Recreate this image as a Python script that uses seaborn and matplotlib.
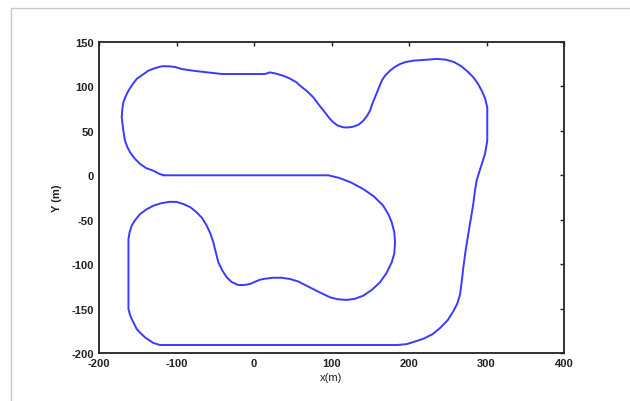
import matplotlib
matplotlib.use("Agg")
import matplotlib.pyplot as plt
import seaborn as sns
import pandas as pd
from matplotlib.patches import Rectangle

# Track outline (x, y in metres)
track_x = [-117, 96, 110, 125, 141, 155, 166.8, 174, 177.7, 181, 182, 181, 177.7, 171, 162.6,
           152, 141, 130, 119.6, 108, 98, 83, 68, 57, 46.4, 35, 24.9, 15, 7.7, -5.2, -13,
           -20.3, -29, -35.2, -41, -46, -49.5, -52.5, -56.5, -61, -67, -74, -82, -91.2, -100,
           -108.4, -120, -130, -139, -147, -153, -157.8, -160.5, -162, -162, -160, -157.8,
           -151.4, -146, -140.6, -130, -121.3, 162.6, 185, 197, 208, 218.5, 230, 240, 250,
           257.2, 262, 265.8, 268, 270, 273, 276.5, 280, 283, 285, 287.3, 293, 298, 301, 301,
           298, 293.8, 289, 283, 276, 267, 258, 248, 236, 222, 205.5, 196, 188.4, 181, 175.5,
           169, 164.8, 160, 156.1, 152, 149.7, 146, 141, 135, 128.1, 121, 115.2, 108, 102.3,
           97, 91.6, 84, 76.5, 68, 59.4, 55, 46, 37.8, 28, 20.6, 14.2, -41.7, -52, -61, -77,
           -93.3, -102, -110, -119, -128, -136.4, -144, -151.4, -157, -162, -166, -168.6, -170,
           -170.7, -170, -169.4, -168, -166.5, -163.5, -160, -154, -147, -139, -130, -123, -117]
track_y = [0, 0, -3, -8, -15.5, -24, -34.3, -45, -53, -64, -75.4, -88, -98, -110, -120.4,
           -129, -135.5, -139, -140.3, -139.5, -137.3, -131, -124.3, -119.5, -116.7, -115.3,
           -115.3, -116.3, -117.5, -122.3, -123.5, -123.5, -120, -114.8, -107, -98, -86, -75.4,
           -65, -56.7, -48, -41.7, -36, -32.3, -30, -29.8, -31.5, -34.3, -38.5, -43.6, -50,
           -56.7, -64, -71.7, -150.5, -157, -161.7, -173, -178, -182.4, -188.7, -191, -191,
           -191, -190, -187, -184, -179, -172, -163, -153, -145, -134.5, -120, -104.5, -85,
           -66, -48, -32, -18, -5.6, 10, 24, 39, 76.5, 87, 95.2, 103, 110.3, 116.5, 123,
           127.5, 130, 131, 130, 129, 127.5, 125.2, 121.5, 117.7, 112, 106.4, 96, 87.8, 79,
           72.7, 67, 61.4, 57, 54.7, 53.8, 54, 56, 59.6, 64.5, 70.8, 79, 87.7, 95, 100.8,
           104.5, 109, 112, 114.5, 115.8, 114, 114, 115, 115.8, 117.5, 119.6, 121.9, 122.7,
           122.7, 120.5, 117.7, 113, 108.4, 102, 95.2, 88, 82.1, 74, 65.2, 60, 55.8, 47, 39,
           32, 25.9, 19, 12.7, 8, 5.2, 2, 0]
x_ticks = [-200, -100, 0, 100, 200, 300, 400]
y_ticks = [-200, -150, -100, -50, 0, 50, 100, 150]

sns.set_theme(style="white")
plt.rcParams['font.family'] = ['Liberation Sans', 'DejaVu Sans']
plt.rcParams['axes.unicode_minus'] = False

df = pd.DataFrame({"x": track_x, "y": track_y})

fig = plt.figure(figsize=(6.3, 4.02), dpi=100)
fig.patches.append(Rectangle((11 / 630, -0.05), 1.0, 1 - 9 / 402 + 0.05,
                             transform=fig.transFigure, fill=False,
                             edgecolor="#c8c8c8", linewidth=1.0))
ax = fig.add_axes([99 / 630, 1 - 354 / 402, (564 - 99) / 630, (354 - 43) / 402])

sns.lineplot(data=df, x="x", y="y", sort=False, estimator=None, ax=ax,
             color="#3a3aff", linewidth=1.4)

ax.set_xlim(-200, 400)
ax.set_ylim(-200, 150)
ax.set_xticks(x_ticks)
ax.set_yticks(y_ticks)
ax.tick_params(direction="in", length=3, width=1, color="#222222",
               top=True, right=True, labelsize=8, pad=3.5, labelcolor="#222222")
for lbl in ax.get_xticklabels() + ax.get_yticklabels():
    lbl.set_fontweight("semibold")
for s in ax.spines.values():
    s.set_color("#222222")
    s.set_linewidth(1.3)
ax.set_xlabel("x(m)", fontsize=8, color="#222222", labelpad=3)
ax.set_ylabel("Y (m)", fontsize=8, color="#222222", labelpad=7, fontweight="bold")

fig.savefig("out.png", dpi=100)
